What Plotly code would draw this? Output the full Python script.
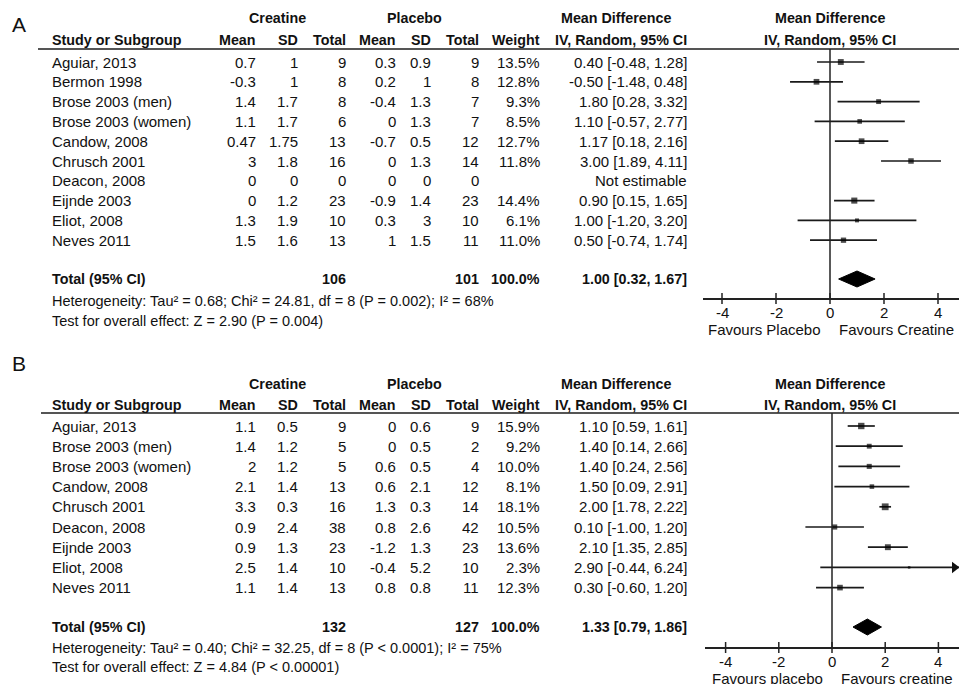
import math
import plotly.graph_objects as go

W, H = 959, 684
FONT = "Liberation Sans, Arial, sans-serif"
INK = "#111111"

# ---------------- Panel A: data ----------------
A_study = ["Aguiar, 2013", "Bermon 1998", "Brose 2003 (men)", "Brose 2003 (women)",
           "Candow, 2008", "Chrusch 2001", "Deacon, 2008", "Eijnde 2003",
           "Eliot, 2008", "Neves 2011"]
A_cr_mean = [0.7, -0.3, 1.4, 1.1, 0.47, 3, 0, 0, 1.3, 1.5]
A_cr_sd = [1, 1, 1.7, 1.7, 1.75, 1.8, 0, 1.2, 1.9, 1.6]
A_cr_n = [9, 8, 8, 6, 13, 16, 0, 23, 10, 13]
A_pl_mean = [0.3, 0.2, -0.4, 0, -0.7, 0, 0, -0.9, 0.3, 1]
A_pl_sd = [0.9, 1, 1.3, 1.3, 0.5, 1.3, 0, 1.4, 3, 1.5]
A_pl_n = [9, 8, 7, 7, 12, 14, 0, 23, 10, 11]
A_weight = [13.5, 12.8, 9.3, 8.5, 12.7, 11.8, None, 14.4, 6.1, 11.0]
A_md = [0.40, -0.50, 1.80, 1.10, 1.17, 3.00, None, 0.90, 1.00, 0.50]
A_lo = [-0.48, -1.48, 0.28, -0.57, 0.18, 1.89, None, 0.15, -1.20, -0.74]
A_hi = [1.28, 0.48, 3.32, 2.77, 2.16, 4.11, None, 1.65, 3.20, 1.74]
A_total_n = (106, 101)
A_total_md = (1.00, 0.32, 1.67)
A_het = "Heterogeneity: Tau² = 0.68; Chi² = 24.81, df = 8 (P = 0.002); I² = 68%"
A_test = "Test for overall effect: Z = 2.90 (P = 0.004)"
A_favours = ("Favours Placebo", "Favours Creatine")

# ---------------- Panel B: data ----------------
B_study = ["Aguiar, 2013", "Brose 2003 (men)", "Brose 2003 (women)", "Candow, 2008",
           "Chrusch 2001", "Deacon, 2008", "Eijnde 2003", "Eliot, 2008", "Neves 2011"]
B_cr_mean = [1.1, 1.4, 2, 2.1, 3.3, 0.9, 0.9, 2.5, 1.1]
B_cr_sd = [0.5, 1.2, 1.2, 1.4, 0.3, 2.4, 1.3, 1.4, 1.4]
B_cr_n = [9, 5, 5, 13, 16, 38, 23, 10, 13]
B_pl_mean = [0, 0, 0.6, 0.6, 1.3, 0.8, -1.2, -0.4, 0.8]
B_pl_sd = [0.6, 0.5, 0.5, 2.1, 0.3, 2.6, 1.3, 5.2, 0.8]
B_pl_n = [9, 2, 4, 12, 14, 42, 23, 10, 11]
B_weight = [15.9, 9.2, 10.0, 8.1, 18.1, 10.5, 13.6, 2.3, 12.3]
B_md = [1.10, 1.40, 1.40, 1.50, 2.00, 0.10, 2.10, 2.90, 0.30]
B_lo = [0.59, 0.14, 0.24, 0.09, 1.78, -1.00, 1.35, -0.44, -0.60]
B_hi = [1.61, 2.66, 2.56, 2.91, 2.22, 1.20, 2.85, 6.24, 1.20]
B_total_n = (132, 127)
B_total_md = (1.33, 0.79, 1.86)
B_het = "Heterogeneity: Tau² = 0.40; Chi² = 32.25, df = 8 (P < 0.0001); I² = 75%"
B_test = "Test for overall effect: Z = 4.84 (P < 0.00001)"
B_favours = ("Favours placebo", "Favours creatine")

tick_vals = [-4, -2, 0, 2, 4]
tick_text = ["-4", "-2", "0", "2", "4"]

# ---------------- layout geometry (pixels) ----------------
COL = dict(study=50, cr_mean=258, cr_sd=300, cr_n=348, pl_mean=398, pl_sd=433,
           pl_n=481, weight=542, ci=689)
GROUP = dict(creatine=277, placebo=414, md_table=616, md_plot=830)

GEOM_A = dict(letter="A", letter_y=24, group_y=18, head_y=40, rule_y=49, rule_x0=38,
              row0=62, step=19.8, total_y=279, het_y=301, test_y=321, axis_y=299,
              zero_px=830, unit_px=27.0, axis_left_px=703)
GEOM_B = dict(letter="B", letter_y=363, group_y=384, head_y=405, rule_y=413, rule_x0=41,
              row0=426, step=20.2, total_y=627, het_y=648, test_y=667, axis_y=648,
              zero_px=832, unit_px=26.6, axis_left_px=705)

fig = go.Figure()
annotations = []
shapes = []


def txt(x, y, s, anchor="right", bold=False, size=15, xref="x"):
    annotations.append(dict(
        x=x, y=y, xref=xref, yref="y", text=s, showarrow=False,
        xanchor=anchor, yanchor="middle",
        font=dict(family=FONT, size=14.3 if bold else size, color=INK,
                  weight="bold" if bold else "normal")))


def num(v):
    return f"{v:g}"


def panel(g, xa, study, cr_mean, cr_sd, cr_n, pl_mean, pl_sd, pl_n,
          weight, md, lo, hi, total_n, total_md, het, test, favours):
    # panel letter and headers
    txt(10, g["letter_y"], g["letter"], anchor="left", size=21)
    txt(GROUP["creatine"], g["group_y"], "Creatine", anchor="center", bold=True)
    txt(GROUP["placebo"], g["group_y"], "Placebo", anchor="center", bold=True)
    txt(GROUP["md_table"], g["group_y"], "Mean Difference", anchor="center", bold=True)
    txt(GROUP["md_plot"], g["group_y"], "Mean Difference", anchor="center", bold=True)
    hy = g["head_y"]
    txt(COL["study"], hy, "Study or Subgroup", anchor="left", bold=True)
    for key, lab in [("cr_mean", "Mean"), ("cr_sd", "SD"), ("cr_n", "Total"),
                     ("pl_mean", "Mean"), ("pl_sd", "SD"), ("pl_n", "Total"),
                     ("weight", "Weight"), ("ci", "IV, Random, 95% CI")]:
        txt(COL[key], hy, lab, bold=True)
    txt(GROUP["md_plot"], hy, "IV, Random, 95% CI", anchor="center", bold=True)
    shapes.append(dict(type="line", xref="x", yref="y", x0=g["rule_x0"], x1=W,
                       y0=g["rule_y"], y1=g["rule_y"], line=dict(color="#555555", width=2)))

    # study rows
    ys = [g["row0"] + i * g["step"] for i in range(len(study))]
    for i, y in enumerate(ys):
        txt(COL["study"], y, study[i], anchor="left")
        txt(COL["cr_mean"], y, num(cr_mean[i]))
        txt(COL["cr_sd"], y, num(cr_sd[i]))
        txt(COL["cr_n"], y, num(cr_n[i]))
        txt(COL["pl_mean"], y, num(pl_mean[i]))
        txt(COL["pl_sd"], y, num(pl_sd[i]))
        txt(COL["pl_n"], y, num(pl_n[i]))
        if md[i] is None:
            txt(COL["ci"], y, "Not estimable")
        else:
            txt(COL["weight"], y, f"{weight[i]:.1f}%")
            txt(COL["ci"], y, f"{md[i]:.2f} [{lo[i]:.2f}, {hi[i]:.2f}]")

    # total row and footnotes
    ty = g["total_y"]
    txt(COL["study"], ty, "Total (95% CI)", anchor="left", bold=True)
    txt(COL["cr_n"], ty, str(total_n[0]), bold=True)
    txt(COL["pl_n"], ty, str(total_n[1]), bold=True)
    txt(COL["weight"], ty, "100.0%", bold=True)
    txt(COL["ci"], ty, f"{total_md[0]:.2f} [{total_md[1]:.2f}, {total_md[2]:.2f}]", bold=True)
    txt(COL["study"], g["het_y"], het, anchor="left", size=14.5)
    txt(COL["study"], g["test_y"], test, anchor="left", size=14.5)

    # forest axis: line from the axis itself, ticks crossing it, labels just below
    xmin = (g["axis_left_px"] - g["zero_px"]) / g["unit_px"]
    xmax = (W - g["zero_px"]) / g["unit_px"]
    axis_name = "xaxis" + xa[1:]
    ay0 = g["axis_y"]
    fig.update_layout(**{axis_name: dict(
        domain=[g["axis_left_px"] / W, 1], range=[xmin, xmax], anchor="free",
        position=1 - ay0 / H, showline=True, linecolor="#222222", linewidth=2,
        ticks="", showticklabels=False, showgrid=False, zeroline=False,
        fixedrange=True)})
    for t, lab in zip(tick_vals, tick_text):
        shapes.append(dict(type="line", xref=xa, yref="y", x0=t, x1=t,
                           y0=ay0 - 6, y1=ay0 + 5,
                           line=dict(color="#222222", width=1.5)))
        txt(t, ay0 + 13, lab, anchor="center", xref=xa)
    # line of no effect
    shapes.append(dict(type="line", xref=xa, yref="y", x0=0, x1=0,
                       y0=g["rule_y"], y1=ay0, line=dict(color="#222222", width=1.5)))

    # confidence intervals
    lx, ly, arx, ary = [], [], [], []
    for i, y in enumerate(ys):
        if md[i] is None:
            continue
        right = hi[i]
        if right > xmax:
            right = xmax
            arx.append(xmax - 4.5 / g["unit_px"])
            ary.append(y)
        lx += [max(lo[i], xmin), right, None]
        ly += [y, y, None]
    fig.add_trace(go.Scatter(x=lx, y=ly, xaxis=xa, yaxis="y", mode="lines",
                             line=dict(color="#1a1a1a", width=1.7), hoverinfo="skip",
                             showlegend=False))
    if arx:
        fig.add_trace(go.Scatter(x=arx, y=ary, xaxis=xa, yaxis="y", mode="markers",
                                 marker=dict(symbol="triangle-right", size=10, color="#111111"),
                                 hoverinfo="skip", showlegend=False))
    # point estimates, square area proportional to weight
    px_, py_, ps_ = [], [], []
    for i, y in enumerate(ys):
        if md[i] is None:
            continue
        px_.append(md[i])
        py_.append(y)
        ps_.append(max(2.5, 1.6 * math.sqrt(weight[i])))
    fig.add_trace(go.Scatter(x=px_, y=py_, xaxis=xa, yaxis="y", mode="markers",
                             marker=dict(symbol="square", size=ps_, color="#000000",
                                         line=dict(width=0)),
                             hoverinfo="skip", showlegend=False))
    # pooled estimate diamond
    est, dlo, dhi = total_md
    half = 8
    fig.add_trace(go.Scatter(x=[dlo, est, dhi, est, dlo],
                             y=[ty, ty - half, ty, ty + half, ty],
                             xaxis=xa, yaxis="y", mode="lines", fill="toself",
                             fillcolor="#000000", line=dict(color="#000000", width=1),
                             hoverinfo="skip", showlegend=False))

    # direction labels
    fy = ay0 + 30
    txt(g["zero_px"] - 7, fy, favours[0], anchor="right")
    txt(g["zero_px"] + 7, fy, favours[1], anchor="left")


panel(GEOM_A, "x2", A_study, A_cr_mean, A_cr_sd, A_cr_n, A_pl_mean, A_pl_sd, A_pl_n,
      A_weight, A_md, A_lo, A_hi, A_total_n, A_total_md, A_het, A_test, A_favours)
panel(GEOM_B, "x3", B_study, B_cr_mean, B_cr_sd, B_cr_n, B_pl_mean, B_pl_sd, B_pl_n,
      B_weight, B_md, B_lo, B_hi, B_total_n, B_total_md, B_het, B_test, B_favours)

fig.update_layout(
    width=W, height=H, margin=dict(l=0, r=0, t=0, b=0),
    paper_bgcolor="white", plot_bgcolor="rgba(0,0,0,0)",
    xaxis=dict(range=[0, W], domain=[0, 1], visible=False, fixedrange=True),
    yaxis=dict(range=[H, 0], domain=[0, 1], visible=False, fixedrange=True),
    annotations=annotations, shapes=shapes, showlegend=False,
)

fig.write_html("out.html")
